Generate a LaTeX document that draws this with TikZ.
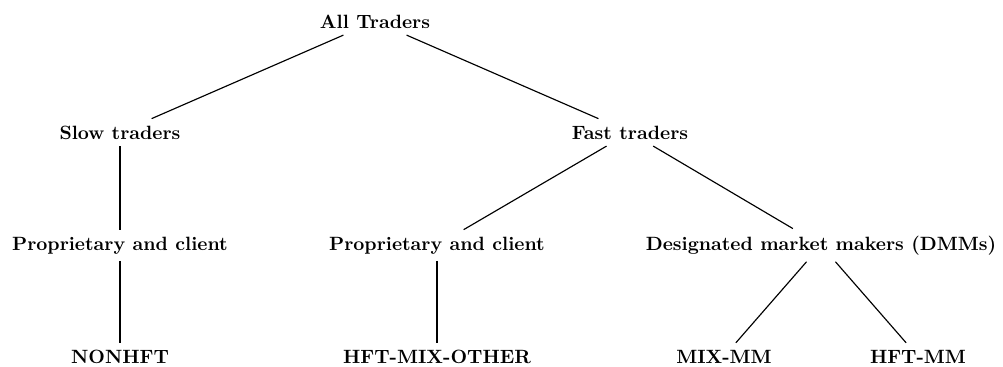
\documentclass[tikz,border=0pt]{standalone}
\begin{document}
\begin{tikzpicture}[x=0.52pt,y=-0.52pt,line width=0.6pt,every node/.style={font=\bfseries,anchor=base}]
      \useasboundingbox (0,0) rectangle (1003,367);
      \draw
        (375,28) node (all){All Traders}
        (120,139) node (slow){Slow traders}
        (630,139) node (fast){Fast traders}
        (120,250) node (propslow){Proprietary and client}
        (437,250) node (propfast){Proprietary and client}
        (821,250) node (dmm){Designated market makers (DMMs)}
        (120,363) node (nonhft){NONHFT}
        (437,363) node (hftmix){HFT-MIX-OTHER}
        (724,363) node (mixmm){MIX-MM}
        (918,363) node (hftmm){HFT-MM};
      \begin{scope}[-]
        \draw (all) to (slow);
        \draw (all) to (fast);
        \draw (slow) to (propslow);
        \draw (propslow) to (nonhft);
        \draw (fast) to (propfast);
        \draw (fast) to (dmm);
        \draw (propfast) to (hftmix);
        \draw (dmm) to (mixmm);
        \draw (dmm) to (hftmm);
      \end{scope}
    \end{tikzpicture}
\end{document}
